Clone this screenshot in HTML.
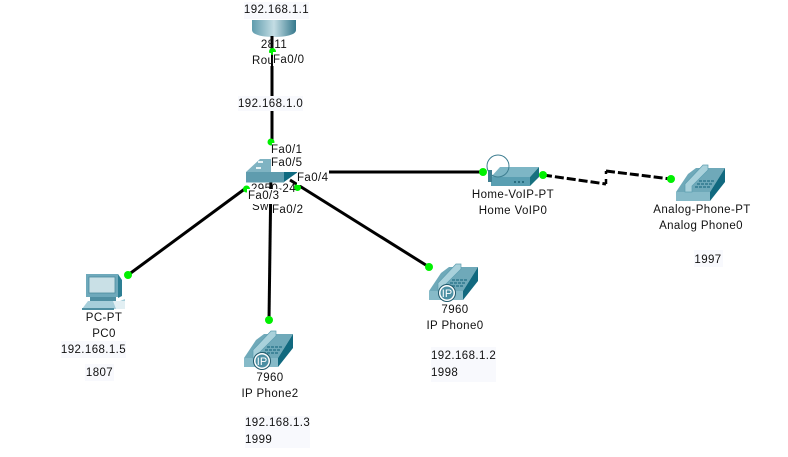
<!DOCTYPE html>
<html><head><meta charset="utf-8"><style>
html,body{margin:0;padding:0;background:#fff;width:788px;height:457px;overflow:hidden}
svg{display:block}
text{font-family:"Liberation Sans",sans-serif;font-size:11.5px;fill:#111;letter-spacing:.4px}
.m{text-anchor:middle}
</style></head><body>
<svg width="788" height="457" viewBox="0 0 788 457" xmlns="http://www.w3.org/2000/svg">
<defs>
<linearGradient id="r" x1="0" y1="0" x2="1" y2="0"><stop offset="0" stop-color="#5f9cad"/><stop offset=".5" stop-color="#c4dde4"/><stop offset="1" stop-color="#35788c"/></linearGradient>
<g id="phone">
<path d="M0 28 L12 10 L20 4 L49 4 L34 28Z" fill="#6fa9b9"/>
<path d="M0 28 H34 V37 H0Z" fill="#86bac8"/>
<path d="M34 28 L49 4 V18 L34 37Z" fill="#11697f"/>
<path d="M9 20 L27 1 L32 1 L32 6 L16 22 L16 28 L9 28Z" fill="#a9d1db" stroke="#5d9eb0" stroke-width=".7"/>
<g fill="#3f8599">
<rect x="23" y="16" width="3" height="2"/><rect x="27" y="16" width="3" height="2"/><rect x="31" y="16" width="3" height="2"/><rect x="35" y="16" width="3" height="2"/>
<rect x="21" y="19" width="3" height="2"/><rect x="25" y="19" width="3" height="2"/><rect x="29" y="19" width="3" height="2"/><rect x="33" y="19" width="3" height="2"/>
<rect x="19" y="22" width="3" height="2"/><rect x="23" y="22" width="3" height="2"/><rect x="27" y="22" width="3" height="2"/><rect x="31" y="22" width="3" height="2"/>
</g>
</g>
</defs>

<!-- connections -->
<g stroke="#000" stroke-width="3" fill="none">
<line x1="272" y1="30" x2="272" y2="142"/>
<line x1="271" y1="172" x2="269" y2="320"/>
<line x1="246" y1="188" x2="128" y2="275"/>
<line x1="290" y1="180" x2="429" y2="267"/>
<line x1="298" y1="172" x2="483" y2="172"/>
<path d="M543 175 L606 184 M606 171 L671 179" stroke-dasharray="9 3"/>
<path d="M606 179 V184 M606 171 V174" stroke-width="2.500"/>
</g>

<!-- router -->
<path d="M252 20 H296 V30 C296 35 285 37 274 37 C263 37 252 35 252 30Z" fill="url(#r)"/>
<rect x="244" y="2" width="65" height="17" fill="#f8f9fd"/>
<text x="276.500" y="13" class="m">192.168.1.1</text>
<rect x="258" y="38" width="30" height="12" fill="#fff"/>
<line x1="272" y1="36" x2="272" y2="50" stroke="#000" stroke-width="3"/>
<text x="274" y="48" class="m">2811</text>
<circle cx="272.500" cy="51.500" r="3.500" fill="#00f000"/>
<rect x="252" y="53" width="19" height="13" fill="#fff"/>
<text x="252" y="64">Rou</text>
<rect x="273" y="52" width="34" height="14" fill="#fff"/>
<text x="273" y="63">Fa0/0</text>
<rect x="238" y="96" width="65" height="15" fill="#f8f9fd"/>
<text x="238" y="107">192.168.1.0</text>

<!-- switch -->
<path d="M246 172 L260 159 L300 159 L284 172Z" fill="#7fb3c2"/>
<path d="M284 172 H298 L284 182Z" fill="#0f6a80"/>
<rect x="246" y="172" width="38" height="10.500" fill="#5f9cae"/>
<g fill="#e6f2f5"><rect x="258" y="161" width="5" height="2"/><rect x="256" y="167" width="5" height="2"/></g>
<circle cx="271" cy="142" r="3.500" fill="#00f000"/>
<rect x="272" y="143" width="32" height="13" fill="#fff"/>
<text x="271" y="153">Fa0/1</text>
<rect x="271" y="155" width="33" height="17" fill="#fff"/>
<text x="271" y="166">Fa0/5</text>
<circle cx="297.500" cy="187.500" r="3.500" fill="#00f000"/>
<rect x="297" y="169" width="32" height="16" fill="#fff"/>
<text x="297" y="181">Fa0/4</text>
<text x="251" y="192">2950-24</text>
<text x="252" y="210">Sw</text>
<circle cx="246.500" cy="189" r="3.500" fill="#00f000"/>
<rect x="247" y="189" width="33" height="15" fill="#fff"/>
<text x="248" y="199">Fa0/3</text>
<rect x="272" y="203" width="33" height="14" fill="#fff"/>
<text x="272" y="213">Fa0/2</text>

<!-- home voip -->
<path d="M491 177 L500 167 H539 L530 177Z" fill="#7db6c5"/>
<rect x="491" y="177" width="39" height="9" fill="#5a9fb2"/>
<path d="M530 177 L539 167 V177 L530 186Z" fill="#17707f"/>
<g fill="#1c5f72"><circle cx="515" cy="182" r="1"/><circle cx="519" cy="182" r="1"/><circle cx="523" cy="182" r="1"/></g>
<circle cx="498" cy="166" r="11" fill="none" stroke="#3c7d90" stroke-width="1"/>
<rect x="488" y="170" width="4" height="12" fill="#3f7e90"/>
<text x="513" y="198" class="m">Home-VoIP-PT</text>
<text x="513" y="214" class="m">Home VoIP0</text>

<!-- analog phone -->
<use href="#phone" transform="translate(676,164)"/>
<text x="702" y="213" class="m">Analog-Phone-PT</text>
<text x="701" y="229" class="m">Analog Phone0</text>
<rect x="694" y="250" width="29" height="17" fill="#f8f9fd"/>
<text x="708" y="263" class="m">1997</text>

<!-- PC -->
<path d="M86 274 H118 V297 H86Z" fill="#6ea9bb"/>
<path d="M118 274 L122 280 V296 L118 298Z" fill="#2d7f94"/>
<rect x="89" y="277" width="26" height="16" fill="#c9e0e6" stroke="#4b8b9e" stroke-width=".8"/>
<rect x="90" y="297" width="26" height="4" fill="#4f8fa2"/>
<path d="M88 301 H120 L125 299 V309 H82Z" fill="#a6ceda"/>
<path d="M113 301 H125 V309 H116Z" fill="#e2eff3"/>
<path d="M82 308 H114 V310 H82Z" fill="#4f8fa2"/>
<text x="104" y="321" class="m">PC-PT</text>
<text x="104" y="337" class="m">PC0</text>
<rect x="61" y="341" width="65" height="17" fill="#f8f9fd"/>
<text x="93.500" y="353" class="m">192.168.1.5</text>
<rect x="85" y="364" width="29" height="17" fill="#f8f9fd"/>
<text x="99.500" y="376" class="m">1807</text>

<!-- IP phone 2 -->
<use href="#phone" transform="translate(244,330)"/>
<circle cx="262" cy="361" r="8.500" fill="#fff" stroke="#21596b" stroke-width="1"/>
<circle cx="262" cy="361" r="6.500" fill="#4c8fa3"/>
<text x="262" y="365" class="m" style="fill:#fff;font-size:11px;letter-spacing:0">IP</text>
<text x="270" y="381" class="m">7960</text>
<text x="270" y="397" class="m">IP Phone2</text>
<rect x="245" y="416" width="65" height="32" fill="#f8f9fd"/>
<text x="245" y="426">192.168.1.3</text>
<text x="245" y="443">1999</text>

<!-- IP phone 0 -->
<use href="#phone" transform="translate(429,263)"/>
<circle cx="447" cy="293" r="8.500" fill="#fff" stroke="#21596b" stroke-width="1"/>
<circle cx="447" cy="293" r="6.500" fill="#4c8fa3"/>
<text x="447" y="297" class="m" style="fill:#fff;font-size:11px;letter-spacing:0">IP</text>
<text x="455" y="313" class="m">7960</text>
<text x="455" y="329" class="m">IP Phone0</text>
<rect x="431" y="347" width="65" height="35" fill="#f8f9fd"/>
<text x="431" y="359">192.168.1.2</text>
<text x="431" y="376">1998</text>

<!-- link lights -->
<g fill="#00f000">
<circle cx="128" cy="275" r="4"/>
<circle cx="269" cy="320" r="4"/>
<circle cx="429" cy="267" r="4"/>
<circle cx="483" cy="172" r="4"/>
<circle cx="543" cy="175" r="4"/>
<circle cx="671" cy="179" r="4"/>
</g>
</svg>
</body></html>
